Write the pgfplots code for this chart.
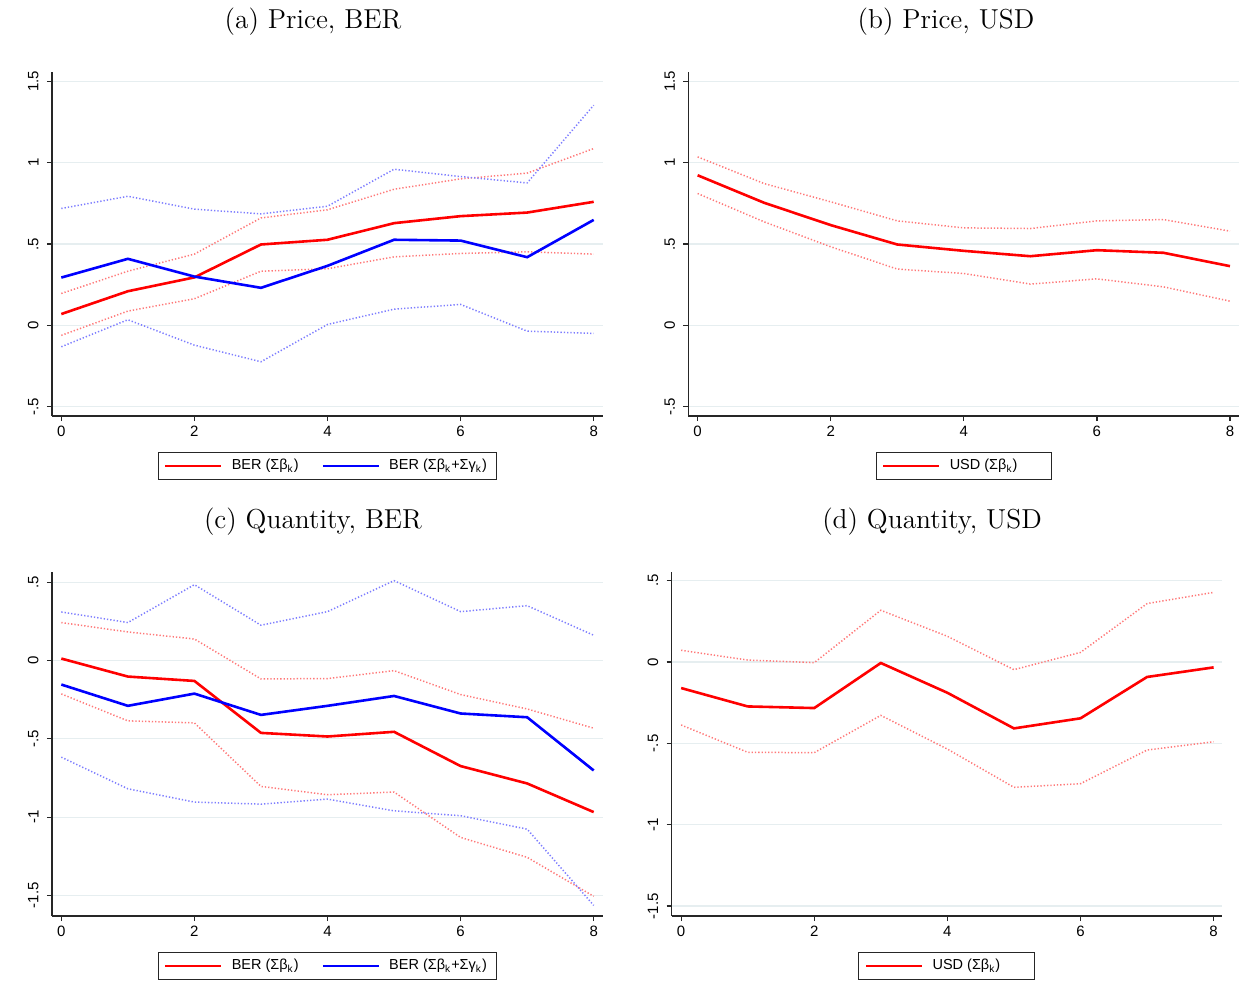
\documentclass[border=0pt]{standalone}
\usepackage{fontspec}
\usepackage{pgfplots}
\pgfplotsset{compat=1.18}
\newfontfamily\sansf{Liberation Sans}
\definecolor{gridc}{RGB}{230,238,240}
\definecolor{dotred}{RGB}{255,120,120}
\definecolor{dotblue}{RGB}{125,125,255}
\definecolor{sred}{RGB}{255,0,0}
\definecolor{sblue}{RGB}{0,0,255}

\pgfplotsset{
  stata/.style={
    scale only axis,
    axis x line*=bottom, axis y line*=left,
    axis line style={-, black!85, line width=0.6bp},
    every outer x axis line/.append style={-},
    every outer y axis line/.append style={-},
    xtick={0,2,4,6,8}, xticklabels={0,2,4,6,8},
    tick align=outside, major tick length=2.5bp,
    tick style={black!85, line width=0.6bp},
    ymajorgrids, grid style={gridc, line width=0.6bp},
    tick label style={font=\sansf\fontsize{7.5bp}{8bp}\selectfont},
    yticklabel style={rotate=90, anchor=south, inner sep=4bp},
    xticklabel style={inner sep=2.3bp},
    legend style={draw=black!85, line width=0.5bp, inner xsep=3bp, inner ysep=1.4bp,
      font=\sansf\fontsize{7.25bp}{8bp}\selectfont,
      at={(0.5,-0.1047)}, anchor=north,
      /tikz/every even column/.append style={column sep=9.5bp}},
    legend cell align=left,
    legend image code/.code={\draw[##1] (0bp,0bp) -- (28bp,0bp); \path (30.5bp,0bp);},
  },
  mainred/.style={sred, line width=1.3bp},
  mainblue/.style={sblue, line width=1.3bp},
  cired/.style={dotred, line width=0.75bp, dash pattern=on 0.65bp off 1bp, forget plot},
  ciblue/.style={dotblue, line width=0.75bp, dash pattern=on 0.65bp off 1bp, forget plot},
}

\begin{document}
\begin{tikzpicture}
\useasboundingbox (0,0) rectangle (622bp,-500bp);

% titles
\node[anchor=base, inner sep=0pt, font=\fontsize{13.7bp}{15bp}\selectfont] at (156.5bp,-14.15bp) {(a) Price, BER};
\node[anchor=base, inner sep=0pt, font=\fontsize{13.7bp}{15bp}\selectfont] at (473bp,-14.15bp) {(b) Price, USD};
\node[anchor=base, inner sep=0pt, font=\fontsize{13.7bp}{15bp}\selectfont] at (156.5bp,-264.15bp) {(c) Quantity, BER};
\node[anchor=base, inner sep=0pt, font=\fontsize{13.7bp}{15bp}\selectfont] at (466bp,-264.15bp) {(d) Quantity, USD};

% (a)
\begin{axis}[stata, at={(26bp,-36bp)}, anchor=north west,
  width=275.5bp, height=172bp,
  xmin=-0.14, xmax=8.14, ymin=-0.556, ymax=1.556,
  ytick={-0.5,0,0.5,1,1.5}, yticklabels={-.5,0,.5,1,1.5},
  legend columns=2]
\addplot[cired] coordinates {(0,0.196)(1,0.333)(2,0.438)(3,0.66)(4,0.71)(5,0.836)(6,0.90)(7,0.935)(8,1.086)};
\addplot[cired] coordinates {(0,-0.061)(1,0.088)(2,0.164)(3,0.333)(4,0.348)(5,0.421)(6,0.442)(7,0.452)(8,0.438)};
\addplot[ciblue] coordinates {(0,0.718)(1,0.793)(2,0.714)(3,0.685)(4,0.732)(5,0.959)(6,0.914)(7,0.875)(8,1.352)};
\addplot[ciblue] coordinates {(0,-0.131)(1,0.035)(2,-0.121)(3,-0.223)(4,0.006)(5,0.10)(6,0.129)(7,-0.035)(8,-0.049)};
\addplot[mainred] coordinates {(0,0.07)(1,0.21)(2,0.295)(3,0.497)(4,0.526)(5,0.628)(6,0.671)(7,0.693)(8,0.759)};
\addlegendentry{BER (Σβ\textsubscript{k})}
\addplot[mainblue] coordinates {(0,0.294)(1,0.409)(2,0.30)(3,0.231)(4,0.366)(5,0.526)(6,0.521)(7,0.419)(8,0.648)};
\addlegendentry{BER (Σβ\textsubscript{k}+Σγ\textsubscript{k})}
\end{axis}

% (b)
\begin{axis}[stata, at={(344.15bp,-36bp)}, anchor=north west,
  width=275.5bp, height=172bp,
  xmin=-0.14, xmax=8.14, ymin=-0.556, ymax=1.556,
  ytick={-0.5,0,0.5,1,1.5}, yticklabels={-.5,0,.5,1,1.5}]
\addplot[cired] coordinates {(0,1.035)(1,0.871)(2,0.759)(3,0.642)(4,0.599)(5,0.595)(6,0.642)(7,0.650)(8,0.579)};
\addplot[cired] coordinates {(0,0.81)(1,0.636)(2,0.483)(3,0.346)(4,0.319)(5,0.254)(6,0.286)(7,0.237)(8,0.149)};
\addplot[mainred] coordinates {(0,0.922)(1,0.753)(2,0.616)(3,0.497)(4,0.458)(5,0.425)(6,0.462)(7,0.446)(8,0.364)};
\addlegendentry{USD (Σβ\textsubscript{k})\makebox[12bp]{}}
\end{axis}

% (c)
\begin{axis}[stata, at={(26bp,-285.85bp)}, anchor=north west,
  width=275.5bp, height=172.15bp,
  xmin=-0.14, xmax=8.14, ymin=-1.632, ymax=0.568,
  ytick={-1.5,-1,-0.5,0,0.5}, yticklabels={-1.5,-1,-.5,0,.5},
  legend columns=2]
\addplot[cired] coordinates {(0,0.243)(1,0.183)(2,0.138)(3,-0.117)(4,-0.115)(5,-0.064)(6,-0.217)(7,-0.309)(8,-0.432)};
\addplot[cired] coordinates {(0,-0.213)(1,-0.385)(2,-0.398)(3,-0.804)(4,-0.857)(5,-0.840)(6,-1.13)(7,-1.257)(8,-1.506)};
\addplot[ciblue] coordinates {(0,0.311)(1,0.243)(2,0.485)(3,0.226)(4,0.313)(5,0.511)(6,0.313)(7,0.351)(8,0.162)};
\addplot[ciblue] coordinates {(0,-0.617)(1,-0.819)(2,-0.904)(3,-0.917)(4,-0.885)(5,-0.960)(6,-0.991)(7,-1.077)(8,-1.564)};
\addplot[mainred] coordinates {(0,0.013)(1,-0.102)(2,-0.130)(3,-0.462)(4,-0.485)(5,-0.455)(6,-0.674)(7,-0.785)(8,-0.968)};
\addlegendentry{BER (Σβ\textsubscript{k})}
\addplot[mainblue] coordinates {(0,-0.153)(1,-0.289)(2,-0.211)(3,-0.347)(4,-0.289)(5,-0.226)(6,-0.338)(7,-0.362)(8,-0.702)};
\addlegendentry{BER (Σβ\textsubscript{k}+Σγ\textsubscript{k})}
\end{axis}

% (d)
\begin{axis}[stata, at={(335.8bp,-285.85bp)}, anchor=north west,
  width=275bp, height=172.15bp,
  xmin=-0.143, xmax=8.12, ymin=-1.561, ymax=0.555,
  ytick={-1.5,-1,-0.5,0,0.5}, yticklabels={-1.5,-1,-.5,0,.5}]
\addplot[cired] coordinates {(0,0.072)(1,0.012)(2,-0.004)(3,0.318)(4,0.158)(5,-0.047)(6,0.059)(7,0.359)(8,0.428)};
\addplot[cired] coordinates {(0,-0.387)(1,-0.555)(2,-0.557)(3,-0.328)(4,-0.535)(5,-0.770)(6,-0.748)(7,-0.541)(8,-0.490)};
\addplot[mainred] coordinates {(0,-0.160)(1,-0.273)(2,-0.283)(3,-0.006)(4,-0.189)(5,-0.408)(6,-0.346)(7,-0.092)(8,-0.033)};
\addlegendentry{USD (Σβ\textsubscript{k})\makebox[12bp]{}}
\end{axis}
\end{tikzpicture}
\end{document}
